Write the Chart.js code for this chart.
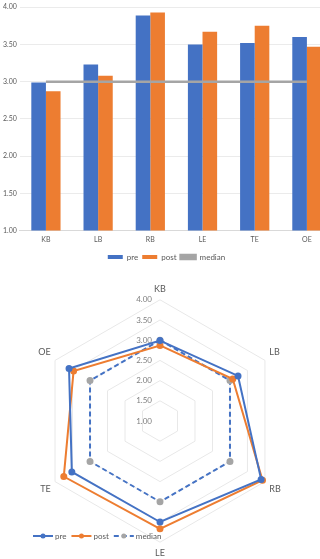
<!DOCTYPE html>
<html lang="en">

<head>
  <meta charset="UTF-8">
  <title>pre / post / median</title>
  <script src="https://cdn.jsdelivr.net/npm/chart.js"></script>
  <style>
    body { margin: 0; background: #fff; }
    .wrap { width: 320px; height: 559px; overflow: hidden; }
    canvas { display: block; }
  </style>
</head>

<body>
  <div class="wrap">
    <canvas id="barChart" width="333" height="271"></canvas>
    <canvas id="radarChart" width="320" height="288"></canvas>
  </div>
  <script>
    // data
    const categories = ['KB', 'LB', 'RB', 'LE', 'TE', 'OE'];
    const preValues = [2.99, 3.23, 3.89, 3.50, 3.52, 3.60];
    const postValues = [2.87, 3.08, 3.93, 3.67, 3.75, 3.47];
    const medianValues = [3.00, 3.00, 3.00, 3.00, 3.00, 3.00];
    const tickValues = [1.00, 1.50, 2.00, 2.50, 3.00, 3.50, 4.00];

    const blue = '#4472c4';
    const orange = '#ed7d31';
    const grey = '#a5a5a5';
    const textGrey = '#595959';
    const font = 'Lato';

    Chart.defaults.font.family = font;
    Chart.defaults.color = textGrey;

    // bar chart (median line drawn on top of the bars)
    new Chart(document.getElementById('barChart'), {
      data: {
        labels: categories,
        datasets: [
          { type: 'bar', label: 'pre', data: preValues, backgroundColor: blue, order: 2 },
          { type: 'bar', label: 'post', data: postValues, backgroundColor: orange, order: 2 },
          { type: 'line', label: 'median', data: medianValues, borderColor: grey, backgroundColor: grey,
            borderWidth: 2.5, pointRadius: 0, order: 1 }
        ]
      },
      options: {
        responsive: false,
        animation: false,
        categoryPercentage: 0.56,
        barPercentage: 1.0,
        layout: { padding: { left: 0, bottom: 0 } },
        plugins: {
          tooltip: { enabled: false },
          legend: {
            position: 'bottom',
            labels: {
              boxWidth: 15, boxHeight: 4, padding: 4, font: { size: 8 }, color: textGrey,
              sort: (a, b) => a.datasetIndex - b.datasetIndex
            }
          }
        },
        scales: {
          x: {
            grid: { display: false, drawTicks: false },
            border: { color: '#d9d9d9' },
            ticks: { font: { size: 7 }, padding: 5, color: textGrey }
          },
          y: {
            min: 1, max: 4,
            afterBuildTicks: axis => { axis.ticks = tickValues.map(v => ({ value: v })); },
            ticks: { font: { size: 7 }, padding: 3, color: textGrey, callback: v => v.toFixed(2) },
            grid: { color: '#ebebeb', drawTicks: false },
            border: { display: false }
          }
        }
      }
    });

    // radar tick labels, right aligned beside the vertical axis
    const radarTicks = {
      id: 'radarTicks',
      beforeDatasetsDraw(chart) {
        const s = chart.scales.r;
        const ctx = chart.ctx;
        ctx.save();
        ctx.font = '8px ' + font;
        ctx.fillStyle = '#7f7f7f';
        ctx.textAlign = 'right';
        ctx.textBaseline = 'middle';
        tickValues.forEach(v => {
          ctx.fillText(v.toFixed(2), s.xCenter - 8, s.yCenter - s.getDistanceFromCenterForValue(v));
        });
        ctx.restore();
      }
    };

    // radar legend, sits over the lower left corner like the original
    const radarLegend = {
      id: 'radarLegend',
      afterDraw(chart) {
        const ctx = chart.ctx;
        let x = 33;
        const y = chart.height - 23;
        ctx.save();
        ctx.font = '8px ' + font;
        ctx.textBaseline = 'middle';
        chart.data.datasets.forEach(ds => {
          ctx.strokeStyle = ds.borderColor;
          ctx.lineWidth = 2;
          ctx.setLineDash(ds.borderDash || []);
          ctx.beginPath();
          ctx.moveTo(x, y);
          ctx.lineTo(x + 20, y);
          ctx.stroke();
          ctx.setLineDash([]);
          ctx.fillStyle = ds.pointBackgroundColor;
          ctx.beginPath();
          ctx.arc(x + 10, y, 2.5, 0, Math.PI * 2);
          ctx.fill();
          ctx.fillStyle = textGrey;
          ctx.fillText(ds.label, x + 22, y);
          x += 22 + ctx.measureText(ds.label).width + 5;
        });
        ctx.restore();
      }
    };

    new Chart(document.getElementById('radarChart'), {
      type: 'radar',
      data: {
        labels: categories,
        datasets: [
          { label: 'pre', data: preValues, borderColor: blue, pointBackgroundColor: blue, pointBorderColor: blue,
            borderWidth: 2, pointRadius: 2.5, fill: false },
          { label: 'post', data: postValues, borderColor: orange, pointBackgroundColor: orange, pointBorderColor: orange,
            borderWidth: 2, pointRadius: 2.5, fill: false },
          { label: 'median', data: medianValues, borderColor: blue, borderDash: [5, 3], pointBackgroundColor: grey,
            pointBorderColor: grey, borderWidth: 2, pointRadius: 2.5, fill: false }
        ]
      },
      options: {
        responsive: false,
        animation: false,
        layout: { padding: { top: 13, bottom: 0 } },
        plugins: { legend: { display: false }, tooltip: { enabled: false } },
        scales: {
          r: {
            min: 1, max: 4,
            afterBuildTicks: axis => { axis.ticks = tickValues.map(v => ({ value: v })); },
            ticks: { display: false },
            grid: { color: '#e8e8e8' },
            angleLines: { display: false },
            pointLabels: { font: { size: 9 }, color: textGrey, padding: 5 }
          }
        }
      },
      plugins: [radarTicks, radarLegend]
    });
  </script>
</body>

</html>
